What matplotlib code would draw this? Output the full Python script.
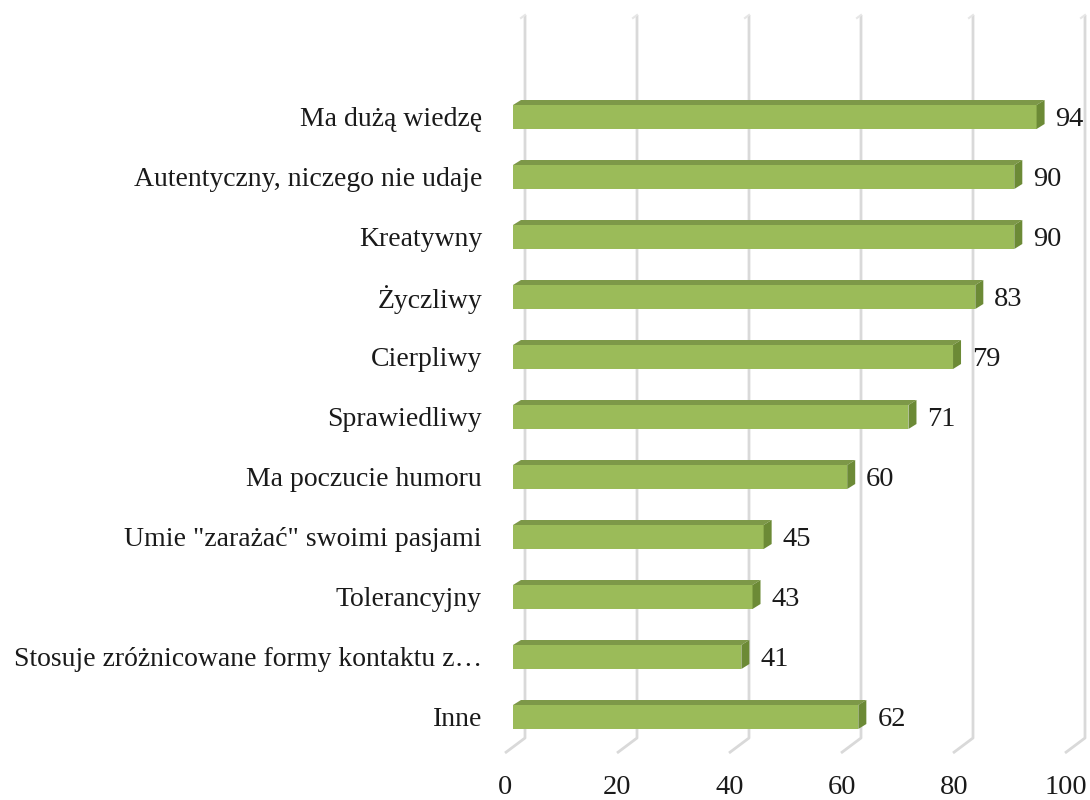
import matplotlib
matplotlib.use("Agg")
import matplotlib.pyplot as plt
from matplotlib.patches import Polygon

categories = ["Ma dużą wiedzę", "Autentyczny, niczego nie udaje", "Kreatywny", "Życzliwy",
              "Cierpliwy", "Sprawiedliwy", "Ma poczucie humoru", "Umie \"zarażać\" swoimi pasjami",
              "Tolerancyjny", "Stosuje zróżnicowane formy kontaktu z…", "Inne"]
values = [94, 90, 90, 83, 79, 71, 60, 45, 43, 41, 62]
xticks = [0, 20, 40, 60, 80, 100]

W, H = 1090, 800
fig = plt.figure(figsize=(W / 100, H / 100), dpi=100)
plt.rcParams['font.family'] = ['Liberation Serif', 'DejaVu Serif']

x0_px, px_per_unit = 513, 5.57
ax = fig.add_axes([x0_px / W, 0, 100 * px_per_unit / W, 1])
ax.set_xlim(0, 100)
row_px = 60.0
top_row_px = 117
n = len(categories)
base_px = top_row_px + (n - 1) * row_px
ax.set_ylim(-(H - base_px) / row_px, base_px / row_px)

def dx(p):
    return p / px_per_unit

def dy(p):
    return p / row_px

def ypix(p):  # pixel from top -> data y
    return (base_px - p) / row_px

# grid (back wall + floor)
gscale = 5.6 / px_per_unit
for v in xticks:
    xb = dx(12) + v * gscale
    xf = dx(-8) + v * gscale
    ax.plot([xb, xb, xf], [ypix(15), ypix(738), ypix(753)], color="#d9d9d9", lw=2,
            solid_capstyle="butt", clip_on=False, zorder=1)
    ax.plot([xb, xb - dx(4)], [ypix(15), ypix(18)], color="#e6e6e6", lw=1.5, clip_on=False, zorder=1)

front = "#9bbb59"
topc = "#7d9848"
side = "#6c8a36"
h = dy(24)
ddx, ddy = dx(8), dy(5)
ys = [n - 1 - i for i in range(n)]
ax.barh(ys, values, height=h, color=front, zorder=3, linewidth=0)
for y, v in zip(ys, values):
    t = y + h / 2
    b = y - h / 2
    ax.add_patch(Polygon([(0, t), (v, t), (v + ddx, t + ddy), (ddx, t + ddy)],
                         closed=True, facecolor=topc, edgecolor="none", zorder=3))
    ax.add_patch(Polygon([(v, b), (v, t), (v + ddx, t + ddy), (v + ddx, b + ddy)],
                         closed=True, facecolor=side, edgecolor="none", zorder=3))
    ax.annotate(str(v), xy=(v, y), xytext=(19 * 0.72, -1.5), textcoords="offset points",
                ha="left", va="center", fontsize=20.5, color="#1a1a1a", annotation_clip=False)

ax.set_yticks(ys)
ax.set_yticklabels(categories, fontsize=20, color="#1a1a1a")
ax.tick_params(axis="y", length=0, pad=31 * 0.72)
ax.set_xticks([])
for v in xticks:
    ax.text(dx(-8) + v * (5.61 / px_per_unit), ypix(788), str(v), ha="center", va="center",
            fontsize=20.5, color="#1a1a1a", clip_on=False)
for s in ax.spines.values():
    s.set_visible(False)
ax.patch.set_alpha(0)

fig.savefig("out.png", dpi=100)
